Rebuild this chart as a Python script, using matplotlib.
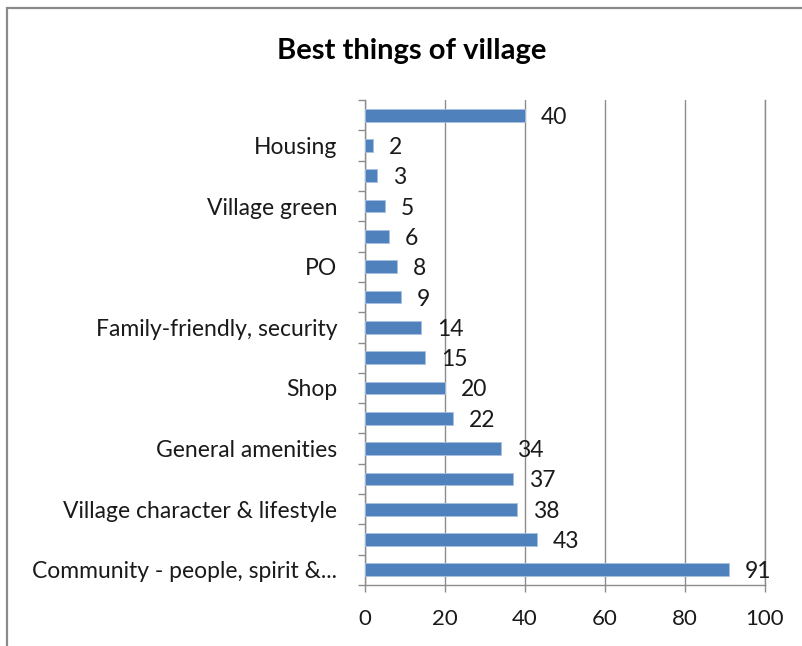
"""Horizontal bar chart: best things about the village (survey counts)."""
import matplotlib
matplotlib.use("Agg")
import matplotlib.pyplot as plt
from matplotlib.patches import Rectangle

# bottom-to-top order; every other category label is not shown on the axis
CATEGORIES = ["Community - people, spirit &...", "", "Village character & lifestyle", "",
              "General amenities", "", "Shop", "", "Family-friendly, security", "",
              "PO", "", "Village green", "", "Housing", ""]
COUNTS = [91, 43, 38, 37, 34, 22, 20, 15, 14, 9, 8, 6, 5, 3, 2, 40]
TICKS = [0, 20, 40, 60, 80, 100]

BAR = "#4F81BD"
GRID = "#8c8c8c"
TXT = "#1a1a1a"
plt.rcParams["font.family"] = ["Lato", "DejaVu Sans"]

W, H = 802, 646
fig = plt.figure(figsize=(W/100, H/100), dpi=100)
ax = fig.add_axes([365/W, 61/H, 400/W, 485/H])

y = range(len(COUNTS))
ax.barh(y, COUNTS, height=0.42, color=BAR, edgecolor="#a9c1e0", linewidth=0.6, zorder=3)
for i, v in enumerate(COUNTS):
    ax.text(v + 4.0, i, str(v), va="center_baseline", ha="left", fontsize=16.5, color=TXT)

ax.set_xlim(0, 100); ax.set_ylim(-0.5, len(COUNTS) - 0.5)
ax.set_xticks(TICKS)
ax.set_xticklabels([str(t) for t in TICKS], fontsize=16, color=TXT)
ax.set_yticks(list(y))
ax.set_yticklabels(CATEGORIES, fontsize=16.5, color=TXT)
ax.tick_params(axis="y", length=0, pad=20)
ax.tick_params(axis="x", length=5, width=1, color=GRID, pad=12)
# tick marks between categories on the value axis
ax.set_yticks([i - 0.5 for i in range(len(COUNTS) + 1)], minor=True)
ax.tick_params(axis="y", which="minor", length=5, width=1, color=GRID)

ax.grid(axis="x", color=GRID, lw=1, zorder=0)
ax.axvline(TICKS[-1], color=GRID, lw=1, clip_on=False, zorder=0)
for s in ("top", "right"):
    ax.spines[s].set_visible(False)
for s in ("left", "bottom"):
    ax.spines[s].set_color(GRID); ax.spines[s].set_linewidth(1)

fig.text(412/W, 1 - 51/H, "Best things of village", ha="center", va="center",
         fontsize=21, fontweight="bold", color="#000000")

# chart-area border (runs off the right and bottom edges)
fig.patches.append(Rectangle((7/W, -0.1), 1.1, 1.1 - 8/H, transform=fig.transFigure,
                             fill=False, edgecolor="#8a8a8a", lw=1.6))

fig.savefig("out.png", dpi=100)
